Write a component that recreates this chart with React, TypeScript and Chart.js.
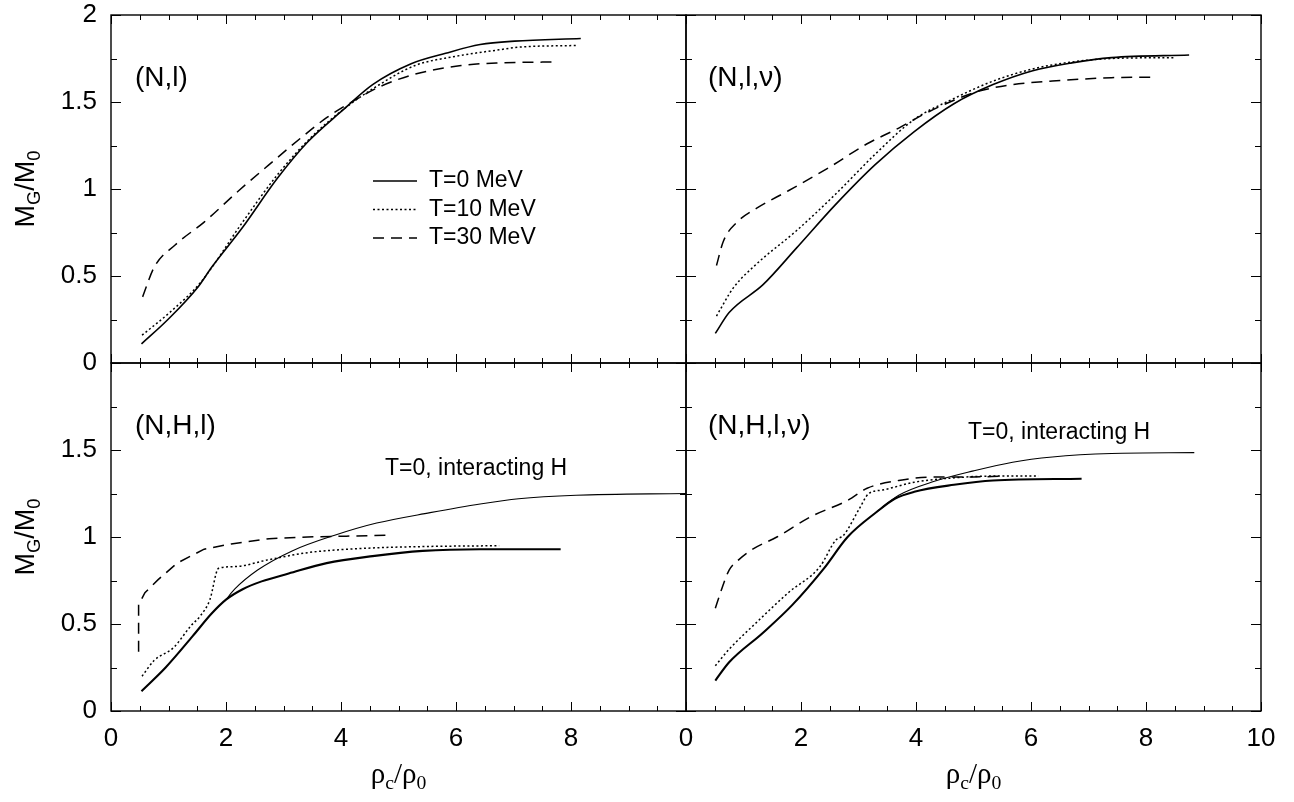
import React, { useEffect, useRef } from "react";
import { Chart, registerables } from "chart.js";

Chart.register(...registerables);

const W = 1294;
const H = 802;
const FONT = "'Liberation Sans', Arial, Helvetica, sans-serif";

// Axis ranges and tick labels
const X_MIN = 0;
const X_MAX = 10;
const X_LABEL_STEP = 2;
const X_MINOR_STEP = 0.5;
const Y_MIN = 0;
const Y_MAX = 2;
const Y_LABEL_STEP = 0.5;
const Y_MINOR_STEP = 0.25;

// (N,l)
const NL_T0_X = [0.53, 0.99, 1.52, 1.75, 2.29, 2.89, 3.42, 4.02, 4.55, 5.22, 5.82, 6.42, 7.02, 8.17];
const NL_T0_Y = [0.11, 0.25, 0.44, 0.55, 0.78, 1.06, 1.27, 1.45, 1.6, 1.72, 1.78, 1.83, 1.85, 1.865];
const NL_T10_X = [0.54, 1.02, 1.55, 2.29, 2.89, 3.49, 4.09, 4.62, 5.29, 5.95, 6.75, 7.09, 8.12];
const NL_T10_Y = [0.16, 0.29, 0.46, 0.81, 1.08, 1.3, 1.47, 1.59, 1.71, 1.76, 1.8, 1.815, 1.825];
const NL_T30_X = [0.55, 0.75, 1.12, 1.62, 2.22, 2.75, 3.29, 3.75, 4.29, 4.69, 5.29, 6.09, 6.75, 7.72];
const NL_T30_Y = [0.38, 0.55, 0.68, 0.81, 0.99, 1.14, 1.29, 1.41, 1.52, 1.59, 1.66, 1.71, 1.725, 1.73];

// (N,l,nu)
const NLV_T0_X = [0.51, 0.75, 1.34, 1.92, 2.6, 3.29, 3.97, 4.66, 5.34, 6.03, 6.71, 7.4, 8.75];
const NLV_T0_Y = [0.17, 0.29, 0.45, 0.66, 0.91, 1.14, 1.33, 1.49, 1.6, 1.68, 1.725, 1.755, 1.77];
const NLV_T10_X = [0.53, 0.82, 1.23, 1.92, 2.6, 3.29, 3.97, 4.66, 5.34, 6.03, 6.71, 7.4, 8.5];
const NLV_T10_Y = [0.27, 0.43, 0.57, 0.76, 0.97, 1.2, 1.4, 1.52, 1.62, 1.69, 1.73, 1.75, 1.755];
const NLV_T30_X = [0.53, 0.65, 0.89, 1.23, 1.78, 2.47, 3.15, 3.7, 4.14, 4.66, 5.07, 5.68, 6.37, 7.4, 8.12];
const NLV_T30_Y = [0.56, 0.7, 0.81, 0.89, 0.99, 1.12, 1.26, 1.35, 1.43, 1.51, 1.56, 1.6, 1.62, 1.64, 1.643];

// (N,H,l)
const NHL_T0_X = [0.53, 0.95, 1.42, 1.75, 2.0, 2.29, 2.62, 3.09, 3.75, 4.55, 5.42, 6.42, 7.82];
const NHL_T0_Y = [0.114, 0.25, 0.43, 0.56, 0.64, 0.7, 0.745, 0.79, 0.85, 0.89, 0.92, 0.93, 0.93];
const NHL_INT_X = [2.0, 2.15, 2.55, 3.15, 3.89, 4.62, 5.55, 6.42, 7.09, 8.09, 10.0];
const NHL_INT_Y = [0.64, 0.7, 0.81, 0.92, 1.01, 1.08, 1.14, 1.19, 1.22, 1.24, 1.25];
const NHL_T10_X = [0.54, 0.75, 1.09, 1.39, 1.55, 1.72, 1.87, 2.15, 2.75, 3.42, 4.42, 5.42, 6.75];
const NHL_T10_Y = [0.2, 0.29, 0.365, 0.49, 0.545, 0.64, 0.82, 0.83, 0.87, 0.91, 0.935, 0.945, 0.95];
const NHL_T30_X = [0.48, 0.48, 0.59, 0.82, 1.15, 1.62, 2.09, 2.75, 3.42, 4.09, 4.83];
const NHL_T30_Y = [0.34, 0.61, 0.68, 0.755, 0.85, 0.93, 0.96, 0.99, 1.0, 1.005, 1.01];

// (N,H,l,nu)
const NHLV_T0_X = [0.51, 0.75, 1.34, 1.85, 2.4, 2.81, 3.32, 3.63, 3.97, 4.66, 5.34, 6.88];
const NHLV_T0_Y = [0.175, 0.28, 0.45, 0.61, 0.82, 1.0, 1.145, 1.22, 1.26, 1.3, 1.325, 1.335];
const NHLV_INT_X = [3.32, 3.7, 4.32, 5.0, 5.68, 6.37, 7.4, 8.84];
const NHLV_INT_Y = [1.145, 1.24, 1.32, 1.38, 1.43, 1.46, 1.48, 1.485];
const NHLV_T10_X = [0.51, 0.75, 1.23, 1.78, 2.33, 2.6, 2.74, 3.01, 3.18, 3.42, 3.97, 4.66, 5.34, 6.13];
const NHLV_T10_Y = [0.26, 0.355, 0.51, 0.68, 0.83, 0.98, 1.01, 1.16, 1.25, 1.27, 1.315, 1.34, 1.35, 1.35];
const NHLV_T30_X = [0.51, 0.62, 0.75, 0.92, 1.16, 1.58, 2.19, 2.81, 3.15, 3.7, 4.32, 5.0, 5.48];
const NHLV_T30_Y = [0.59, 0.7, 0.81, 0.87, 0.93, 1.0, 1.12, 1.21, 1.28, 1.325, 1.345, 1.345, 1.35];

const LEGEND_LABELS = ["T=0 MeV", "T=10 MeV", "T=30 MeV"];
const NOTE_TEXT = "T=0, interacting H";

const STYLE_T0 = { borderWidth: 1.6, borderDash: [] as number[] };
const STYLE_T0_THICK = { borderWidth: 2.1, borderDash: [] as number[] };
const STYLE_INT = { borderWidth: 1.1, borderDash: [] as number[] };
const STYLE_T10 = { borderWidth: 1.5, borderDash: [2, 2.5] };
const STYLE_T30 = { borderWidth: 1.5, borderDash: [11, 7] };

function pts(xs: number[], ys: number[]) {
  return xs.map((x, i) => ({ x, y: ys[i] }));
}

function ds(xs: number[], ys: number[], style: any, straight = false) {
  return {
    data: pts(xs, ys),
    borderColor: "#000",
    backgroundColor: "#000",
    borderWidth: style.borderWidth,
    borderDash: style.borderDash,
    pointRadius: 0,
    fill: false,
    cubicInterpolationMode: straight ? "default" : "monotone",
    tension: straight ? 0 : 0.4,
  };
}

type Panel = {
  left: number;
  top: number;
  right: number;
  bottom: number;
  showX: boolean;
  showY: boolean;
  hideX10: boolean;
  hideY2: boolean;
  datasets: any[];
  label: string;
  labelDx: number;
  labelDy: number;
  note?: { dx: number; dy: number };
  legend?: { dx: number; dy: number; gap: number };
};

const PANELS: Panel[] = [
  {
    left: 111, top: 15, right: 686, bottom: 363,
    showX: false, showY: true, hideX10: true, hideY2: false,
    datasets: [
      ds(NL_T0_X, NL_T0_Y, STYLE_T0),
      ds(NL_T10_X, NL_T10_Y, STYLE_T10),
      ds(NL_T30_X, NL_T30_Y, STYLE_T30),
    ],
    label: "(N,l)", labelDx: 24, labelDy: 63,
    legend: { dx: 262, dy: 166, gap: 28.5 },
  },
  {
    left: 686, top: 15, right: 1261, bottom: 363,
    showX: false, showY: false, hideX10: false, hideY2: false,
    datasets: [
      ds(NLV_T0_X, NLV_T0_Y, STYLE_T0),
      ds(NLV_T10_X, NLV_T10_Y, STYLE_T10),
      ds(NLV_T30_X, NLV_T30_Y, STYLE_T30),
    ],
    label: "(N,l,\u03bd)", labelDx: 22, labelDy: 63,
  },
  {
    left: 111, top: 363, right: 686, bottom: 711,
    showX: true, showY: true, hideX10: true, hideY2: true,
    datasets: [
      ds(NHL_T0_X, NHL_T0_Y, STYLE_T0_THICK),
      ds(NHL_INT_X, NHL_INT_Y, STYLE_INT),
      ds(NHL_T10_X, NHL_T10_Y, STYLE_T10),
      ds(NHL_T30_X, NHL_T30_Y, STYLE_T30, true),
    ],
    label: "(N,H,l)", labelDx: 24, labelDy: 63,
    note: { dx: 274, dy: 106 },
  },
  {
    left: 686, top: 363, right: 1261, bottom: 711,
    showX: true, showY: false, hideX10: false, hideY2: true,
    datasets: [
      ds(NHLV_T0_X, NHLV_T0_Y, STYLE_T0_THICK),
      ds(NHLV_INT_X, NHLV_INT_Y, STYLE_INT),
      ds(NHLV_T10_X, NHLV_T10_Y, STYLE_T10),
      ds(NHLV_T30_X, NHLV_T30_Y, STYLE_T30),
    ],
    label: "(N,H,l,\u03bd)", labelDx: 22, labelDy: 63,
    note: { dx: 282, dy: 70 },
  },
];

const Y_AXIS_W = 100;
const X_AXIS_H = 60;

function steps(min: number, max: number, step: number) {
  const out: number[] = [];
  const n = Math.round((max - min) / step);
  for (let i = 0; i <= n; i++) out.push(min + i * step);
  return out;
}

function makeDecor(p: Panel) {
  return {
    id: "decor",
    afterDatasetsDraw(chart: any) {
      const { ctx, chartArea: a, scales } = chart;
      const x = scales.x;
      const y = scales.y;
      ctx.save();
      ctx.strokeStyle = "#000";
      ctx.lineWidth = 1.4;
      ctx.setLineDash([]);
      ctx.strokeRect(a.left, a.top, a.right - a.left, a.bottom - a.top);
      ctx.beginPath();
      ctx.lineWidth = 1;
      for (const v of steps(X_MIN, X_MAX, X_MINOR_STEP)) {
        const px = Math.round(x.getPixelForValue(v)) + 0.5;
        const major = Math.abs(v / X_LABEL_STEP - Math.round(v / X_LABEL_STEP)) < 1e-6;
        const len = major ? 9 : 5;
        ctx.moveTo(px, a.bottom);
        ctx.lineTo(px, a.bottom - len);
        ctx.moveTo(px, a.top);
        ctx.lineTo(px, a.top + len);
      }
      for (const v of steps(Y_MIN, Y_MAX, Y_MINOR_STEP)) {
        const py = Math.round(y.getPixelForValue(v)) + 0.5;
        const major = Math.abs(v / Y_LABEL_STEP - Math.round(v / Y_LABEL_STEP)) < 1e-6;
        const len = major ? 10 : 6;
        ctx.moveTo(a.left, py);
        ctx.lineTo(a.left + len, py);
        ctx.moveTo(a.right, py);
        ctx.lineTo(a.right - len, py);
      }
      ctx.stroke();

      ctx.fillStyle = "#000";
      ctx.textBaseline = "middle";
      ctx.textAlign = "left";
      ctx.font = `28px ${FONT}`;
      ctx.fillText(p.label, a.left + p.labelDx, a.top + p.labelDy);

      if (p.note) {
        ctx.font = `23px ${FONT}`;
        ctx.fillText(NOTE_TEXT, a.left + p.note.dx, a.top + p.note.dy);
      }
      if (p.legend) {
        const styles = [STYLE_T0, STYLE_T10, STYLE_T30];
        ctx.font = `23px ${FONT}`;
        LEGEND_LABELS.forEach((lab, i) => {
          const ly = a.top + p.legend!.dy + i * p.legend!.gap;
          const lx = a.left + p.legend!.dx;
          ctx.beginPath();
          ctx.lineWidth = styles[i].borderWidth;
          ctx.setLineDash(styles[i].borderDash);
          ctx.moveTo(lx, ly);
          ctx.lineTo(lx + 44, ly);
          ctx.stroke();
          ctx.setLineDash([]);
          ctx.fillText(lab, lx + 56, ly);
        });
      }
      ctx.restore();
    },
  };
}

function zeroPad(s: any) {
  s.paddingLeft = 0;
  s.paddingRight = 0;
  s.paddingTop = 0;
  s.paddingBottom = 0;
}

function PanelChart({ p }: { p: Panel }) {
  const ref = useRef<HTMLCanvasElement>(null);
  useEffect(() => {
    if (!ref.current) return;
    const padLeft = p.showY ? p.left - Y_AXIS_W : p.left;
    const padBottom = p.showX ? H - p.bottom - X_AXIS_H : H - p.bottom;
    const chart = new Chart(ref.current, {
      type: "line",
      data: { datasets: p.datasets as any },
      options: {
        animation: false,
        responsive: false,
        devicePixelRatio: 1,
        events: [],
        layout: {
          padding: { left: padLeft, top: p.top, right: W - p.right, bottom: padBottom },
        },
        plugins: {
          legend: { display: false },
          tooltip: { enabled: false },
        },
        scales: {
          x: {
            type: "linear",
            min: X_MIN,
            max: X_MAX,
            display: p.showX,
            afterFit: (s: any) => {
              if (p.showX) s.height = X_AXIS_H;
              zeroPad(s);
            },
            grid: { display: false, drawTicks: false },
            border: { display: false },
            ticks: {
              stepSize: X_LABEL_STEP,
              autoSkip: false,
              maxRotation: 0,
              padding: 12,
              color: "#000",
              font: { family: FONT, size: 26 },
              callback: (v: any) => (p.hideX10 && Number(v) === X_MAX ? "" : String(v)),
            },
          },
          y: {
            type: "linear",
            min: Y_MIN,
            max: Y_MAX,
            display: p.showY,
            afterFit: (s: any) => {
              if (p.showY) s.width = Y_AXIS_W;
              zeroPad(s);
            },
            grid: { display: false, drawTicks: false },
            border: { display: false },
            ticks: {
              stepSize: Y_LABEL_STEP,
              autoSkip: false,
              padding: 14,
              color: "#000",
              font: { family: FONT, size: 26 },
              callback: (v: any) => (p.hideY2 && Number(v) === Y_MAX ? "" : String(v)),
            },
          },
        },
      },
      plugins: [makeDecor(p)],
    });
    return () => chart.destroy();
  }, [p]);
  return (
    <canvas
      ref={ref}
      width={W}
      height={H}
      style={{ position: "absolute", left: 0, top: 0, width: W, height: H }}
    />
  );
}

const subStyle: React.CSSProperties = { fontSize: "0.68em", verticalAlign: "-0.32em" };

function XTitle({ cx }: { cx: number }) {
  return (
    <div
      style={{
        position: "absolute",
        left: cx,
        top: 776,
        transform: "translate(-50%, -50%)",
        font: `29px 'Liberation Serif', 'DejaVu Serif', serif`,
        whiteSpace: "nowrap",
        lineHeight: 1,
        color: "#000",
      }}
    >
      ρ<span style={subStyle}>c</span>/ρ<span style={subStyle}>0</span>
    </div>
  );
}

function YTitle({ cy }: { cy: number }) {
  return (
    <div
      style={{
        position: "absolute",
        left: 28,
        top: cy,
        transform: "translate(-50%, -50%) rotate(-90deg)",
        font: `27px ${FONT}`,
        whiteSpace: "nowrap",
        lineHeight: 1,
        color: "#000",
      }}
    >
      M<span style={subStyle}>G</span>/M<span style={subStyle}>0</span>
    </div>
  );
}

export default function App() {
  return (
    <div
      style={{
        position: "fixed",
        left: 0,
        top: 0,
        width: W,
        height: H,
        background: "#fff",
        overflow: "hidden",
      }}
    >
      {PANELS.map((p, i) => (
        <PanelChart key={i} p={p} />
      ))}
      <XTitle cx={398.5} />
      <XTitle cx={973.5} />
      <YTitle cy={189} />
      <YTitle cy={537} />
    </div>
  );
}
